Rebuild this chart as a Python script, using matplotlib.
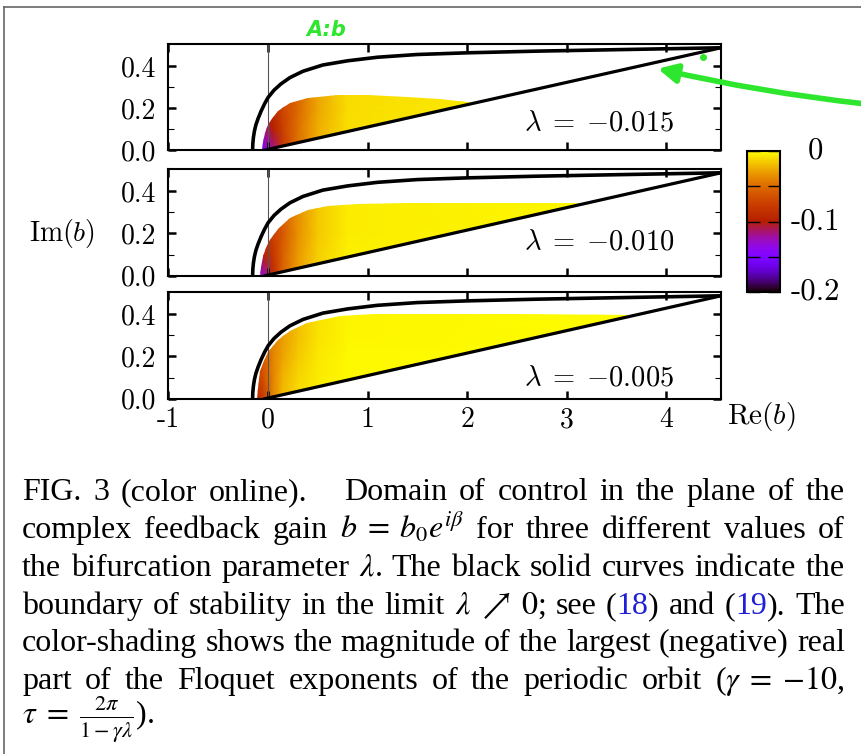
import re
import numpy as np
import matplotlib
matplotlib.use("Agg")
import matplotlib.pyplot as plt
from matplotlib.patches import Polygon, FancyArrowPatch
from matplotlib.lines import Line2D
from matplotlib.colors import Normalize
from matplotlib.cm import ScalarMappable
from matplotlib.transforms import blended_transform_factory

# ---------------- data ----------------
lambda_labels = ["-0.015", "-0.010", "-0.005"]
x_ticks = [-1, 0, 1, 2, 3, 4]
x_tick_labels = ["-1", "0", "1", "2", "3", "4"]
y_ticks = [0.0, 0.2, 0.4]
y_tick_labels = ["0.0", "0.2", "0.4"]
y_minor_ticks = [0.1, 0.3]
cbar_ticks = [-0.2, -0.15, -0.1, -0.05, 0.0]
cbar_label_values = [0.0, -0.1, -0.2]
cbar_labels = ["0", "-0.1", "-0.2"]

# stability boundary (upper curve), identical in all panels
boundary_x = [-0.155, -0.153, -0.147, -0.137, -0.122, -0.1, -0.07, -0.035, 0.0,
              0.06, 0.13, 0.22, 0.35, 0.55, 0.8, 1.1, 1.5, 2.0, 2.7, 3.5, 4.55]
boundary_y = [0.0, 0.03, 0.06, 0.09, 0.12, 0.15, 0.185, 0.22, 0.25,
              0.285, 0.315, 0.345, 0.375, 0.405, 0.425, 0.442, 0.455, 0.463, 0.471, 0.478, 0.487]
# lower straight boundary
lower_x = [-0.03, 4.55]
lower_y = [0.0, 0.487]

# upper edge of the shaded region in each panel
region1_x = [-0.06, -0.05, -0.03, -0.01, 0.03, 0.1, 0.22, 0.4, 0.7, 1.0, 1.4, 1.73, 2.08]
region1_y = [0.0, 0.04, 0.08, 0.11, 0.145, 0.185, 0.225, 0.25, 0.262, 0.26, 0.252, 0.243, 0.223]
region2_x = [-0.085, -0.075, -0.055, -0.025, 0.02, 0.1, 0.22, 0.4, 0.6, 0.9, 1.4, 2.5, 3.22]
region2_y = [0.0, 0.04, 0.09, 0.13, 0.17, 0.22, 0.275, 0.31, 0.328, 0.34, 0.345, 0.345, 0.344]
region3_x = [-0.115, -0.105, -0.08, -0.045, 0.0, 0.05, 0.1, 0.22, 0.39, 0.72, 1.06, 2.5, 3.66]
region3_y = [0.0, 0.05, 0.13, 0.18, 0.22, 0.25, 0.28, 0.32, 0.36, 0.39, 0.40, 0.40, 0.395]

# colour field (largest real part of the Floquet exponents), read on a coarse grid
field_x = [-0.2, -0.05, 0.05, 0.15, 0.3, 0.5, 0.8, 4.6]
field_y = [0.0, 0.1, 0.2, 0.3, 0.45]
field1 = [[-0.18, -0.15, -0.12, -0.080, -0.048, -0.024, -0.008, 0.0],
          [-0.15, -0.12, -0.10, -0.075, -0.048, -0.025, -0.009, 0.0],
          [-0.12, -0.10, -0.09, -0.070, -0.052, -0.027, -0.010, 0.0],
          [-0.12, -0.10, -0.09, -0.070, -0.052, -0.027, -0.010, 0.0],
          [-0.12, -0.10, -0.09, -0.070, -0.052, -0.027, -0.010, 0.0]]
field2 = [[-0.16, -0.13, -0.09, -0.055, -0.030, -0.013, -0.004, 0.0],
          [-0.12, -0.10, -0.08, -0.055, -0.032, -0.014, -0.004, 0.0],
          [-0.10, -0.09, -0.075, -0.060, -0.035, -0.016, -0.005, 0.0],
          [-0.09, -0.08, -0.07, -0.055, -0.035, -0.016, -0.005, 0.0],
          [-0.09, -0.08, -0.07, -0.055, -0.035, -0.016, -0.005, 0.0]]
field3 = [[-0.10, -0.08, -0.04, -0.020, -0.010, -0.005, -0.002, 0.0],
          [-0.09, -0.065, -0.04, -0.022, -0.012, -0.006, -0.002, 0.0],
          [-0.08, -0.06, -0.04, -0.028, -0.015, -0.007, -0.002, 0.0],
          [-0.07, -0.055, -0.04, -0.030, -0.018, -0.008, -0.003, 0.0],
          [-0.07, -0.055, -0.04, -0.030, -0.018, -0.008, -0.003, 0.0]]

regions_x = [region1_x, region2_x, region3_x]
regions_y = [region1_y, region2_y, region3_y]
fields = [field1, field2, field3]

caption_lines = [
    r"FIG. 3 (color online).| Domain of control in the plane of the",
    r"complex feedback gain $b\;=\;b_0e^{i\beta}$ for three different values of",
    r"the bifurcation parameter $\lambda$. The black solid curves indicate the",
    r"boundary of stability in the limit $\lambda\;\nearrow\;0$; see (<18>) and (<19>). The",
    r"color-shading shows the magnitude of the largest (negative) real",
    r"part of the Floquet exponents of the periodic orbit ($\gamma\;=\;{-10}$,",
    r"$\tau\;=\;\frac{2\pi}{1-\gamma\lambda}$).",
]

# ---------------- layout ----------------
W, H = 862, 754
fig = plt.figure(figsize=(W / 100, H / 100), dpi=100)
fig.patch.set_facecolor("white")


def fx(x):
    return x / W


def fy(y):
    return 1 - y / H


def px_rect(l, t, r, b):
    return [l / W, 1 - b / H, (r - l) / W, (b - t) / H]


panel_px = [(44, 150), (169, 275.7), (292, 398.7)]
label_yfrac = [0.26, 0.32, 0.20]
cmap = plt.get_cmap("gnuplot")
norm = Normalize(vmin=-0.2, vmax=0.0)

axes = []
for i, (top, bot) in enumerate(panel_px):
    ax = fig.add_axes(px_rect(168.5, top, 721, bot))
    axes.append(ax)
    ax.set_xlim(-1, 4.55)
    ax.set_ylim(0, 0.505)

    X, Y = np.meshgrid(field_x, field_y)
    pm = ax.pcolormesh(X, Y, np.array(fields[i]), shading="gouraud",
                       cmap=cmap, norm=norm, zorder=1)
    verts = np.column_stack([regions_x[i] + [lower_x[0]],
                             regions_y[i] + [lower_y[0]]])
    clip = Polygon(verts, closed=True, transform=ax.transData)
    pm.set_clip_path(clip)

    ax.axvline(0, color="#555555", lw=0.8, zorder=2)
    ax.plot(boundary_x, boundary_y, color="black", lw=2.6, zorder=3)
    ax.plot(lower_x, lower_y, color="black", lw=2.3, zorder=3)

    ax.text(0.643, label_yfrac[i], r"$\lambda\;=\;{%s}$" % lambda_labels[i],
            transform=ax.transAxes, fontsize=20.5, math_fontfamily="cm",
            va="center", ha="left")

    ax.set_xticks(x_ticks)
    ax.set_yticks(y_ticks)
    ax.set_yticks(y_minor_ticks, minor=True)
    ax.tick_params(which="both", direction="in", top=True, right=True)
    ax.tick_params(which="major", length=6, width=1.8, pad=9)
    ax.tick_params(which="minor", length=4, width=0.8)
    ax.set_yticklabels(y_tick_labels, fontfamily="cmr10", fontsize=20)
    if i == 2:
        ax.set_xticklabels(x_tick_labels, fontfamily="cmr10", fontsize=20)
        ax.tick_params(axis="x", pad=6)
    else:
        ax.set_xticklabels([])
    for s in ax.spines.values():
        s.set_linewidth(1.5)

fig.text(fx(62), fy(234), r"$\mathrm{Im}(b)$", fontsize=20, math_fontfamily="cm",
         ha="center", va="center")
fig.text(fx(727), fy(417), r"$\mathrm{Re}(b)$", fontsize=21, math_fontfamily="cm",
         ha="left", va="center")

# colorbar
cax = fig.add_axes(px_rect(747, 151, 780, 292))
cb = fig.colorbar(ScalarMappable(norm=norm, cmap=cmap), cax=cax)
cb.set_ticks(cbar_ticks)
cax.tick_params(direction="in", left=True, right=True, length=9, width=1,
                labelright=False, labelleft=False)
cb.outline.set_linewidth(1.5)
tr = blended_transform_factory(cax.transAxes, cax.transData)
for v, lab in zip(cbar_label_values, cbar_labels):
    cax.text(2.06, v, lab, transform=tr, ha="center", va="center",
             fontfamily="cmr10", fontsize=22)

# ---------------- caption (justified) ----------------
renderer = fig.canvas.get_renderer()
cap_left, cap_right = 22, 845
baselines = [500, 538, 576, 614, 651, 689, 724]
CAP_FONT = "Liberation Serif"
BLUE = "#1f1fd8"


def segments(token):
    parts = re.split(r"(<[^>]*>)", token)
    out = []
    for p in parts:
        if not p:
            continue
        if p.startswith("<"):
            out.append((p[1:-1], BLUE))
        else:
            out.append((p, "black"))
    return out


def measure(s, fs):
    t = fig.text(0, 0, s, fontsize=fs, family=CAP_FONT, math_fontfamily="stix")
    w = t.get_window_extent(renderer=renderer).width
    t.remove()
    return w


def tokens_of(line):
    toks = []
    for chunk in line.split(" "):
        extra = 0.0
        if chunk.endswith("|"):
            chunk = chunk[:-1]
            extra = 0.8
        if chunk:
            toks.append((segments(chunk), extra))
    return toks


avail = cap_right - cap_left
fs = 23.0
while fs > 14:
    ok = True
    em = fs * 100 / 72
    for line in caption_lines[:-1]:
        toks = tokens_of(line)
        tot = sum(sum(measure(s, fs) for s, _ in segs) + ex * em for segs, ex in toks)
        if tot + 0.13 * em * (len(toks) - 1) > avail:
            ok = False
            break
    if ok:
        break
    fs -= 0.25

em = fs * 100 / 72
space_w = measure("a a", fs) - measure("aa", fs)
for li, line in enumerate(caption_lines):
    toks = tokens_of(line)
    widths = []
    for segs, ex in toks:
        widths.append([measure(s, fs) for s, _ in segs])
    tot = sum(sum(w) + ex * em for w, (segs, ex) in zip(widths, toks))
    last = li == len(caption_lines) - 1
    gap = space_w if last else (avail - tot) / max(len(toks) - 1, 1)
    x = cap_left
    for (segs, ex), ws in zip(toks, widths):
        for (s, col), w in zip(segs, ws):
            fig.text(fx(x), fy(baselines[li]), s, fontsize=fs, family=CAP_FONT,
                     math_fontfamily="stix", color=col, ha="left", va="baseline")
            x += w
        x += ex * em + gap

# ---------------- frame and annotations ----------------
fig.add_artist(Line2D([fx(4), fx(862)], [fy(7), fy(7)], color="#666666", lw=1.2,
                      transform=fig.transFigure))
fig.add_artist(Line2D([fx(4), fx(4)], [fy(7), fy(754)], color="#666666", lw=1.2,
                      transform=fig.transFigure))

GREEN = "#2ee62e"
arrow = FancyArrowPatch(posA=(fx(866), fy(104)), posB=(fx(655), fy(68)),
                        transform=fig.transFigure, arrowstyle="-|>",
                        mutation_scale=28, color=GREEN, lw=4,
                        connectionstyle="arc3,rad=-0.03")
fig.add_artist(arrow)
fig.add_artist(Line2D([fx(703)], [fy(57)], marker="o", ms=4, color=GREEN,
                      transform=fig.transFigure))
fig.text(fx(306), fy(36), "A:b", color=GREEN, fontsize=15, style="italic",
         fontweight="bold", ha="left", va="baseline")

fig.savefig("out.png", dpi=100, facecolor="white")
